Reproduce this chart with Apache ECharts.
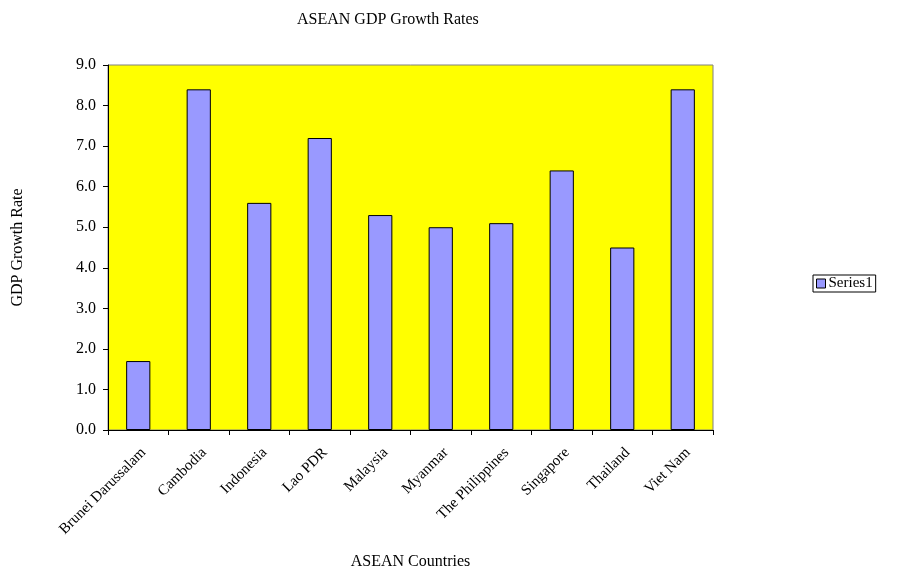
<!DOCTYPE html>
<html>
<head>
<meta charset="utf-8">
<script src="https://cdn.jsdelivr.net/npm/echarts@6/dist/echarts.min.js"></script>
<style>
  html, body { margin: 0; padding: 0; background: #fff; }
  #chart { width: 909px; height: 569px; }
</style>
</head>
<body>
<div id="chart"></div>
<script>
// ASEAN GDP growth rates by country (%)
const countries = ['Brunei Darussalam', 'Cambodia', 'Indonesia', 'Lao PDR', 'Malaysia',
  'Myanmar', 'The Philippines', 'Singapore', 'Thailand', 'Viet Nam'];
const growthRates = [1.7, 8.4, 5.6, 7.2, 5.3, 5.0, 5.1, 6.4, 4.5, 8.4];
const seriesName = 'Series1';

const serif = '"Liberation Serif", "DejaVu Serif", serif';
const chart = echarts.init(document.getElementById('chart'), null, { renderer: 'canvas' });

const grid = { left: 108, top: 65, right: 196, bottom: 139 };

chart.setOption({
  animation: false,
  backgroundColor: '#ffffff',
  textStyle: { fontFamily: serif, color: '#000' },
  title: {
    text: 'ASEAN GDP Growth Rates',
    left: 292, top: 7,
    textStyle: { fontFamily: serif, fontSize: 16, fontWeight: 'normal', color: '#000' }
  },
  legend: {
    data: [seriesName],
    left: 813, top: 275,
    itemWidth: 9, itemHeight: 9, itemGap: 4,
    borderColor: '#000', borderWidth: 1, padding: [1, 3, 1, 3],
    icon: 'rect',
    itemStyle: { borderColor: '#000', borderWidth: 1 },
    textStyle: { fontFamily: serif, fontSize: 15, color: '#000', padding: [0, 0, 0, -2] }
  },
  grid: Object.assign({
    show: true, backgroundColor: '#ffff00', borderColor: '#808080', borderWidth: 1,
    containLabel: false, outerBoundsMode: 'none'
  }, grid),
  xAxis: {
    type: 'category',
    data: countries,
    name: 'ASEAN Countries',
    nameLocation: 'middle',
    nameGap: 124,
    nameMoveOverlap: false,
    nameTextStyle: { fontFamily: serif, fontSize: 16, color: '#000' },
    axisLine: { lineStyle: { color: '#000', width: 1 } },
    axisTick: { show: true, length: 5, lineStyle: { color: '#000' } },
    axisLabel: { rotate: 45, margin: 15, verticalAlign: 'top',
      fontFamily: serif, fontSize: 15, color: '#000', interval: 0 },
    splitLine: { show: false }
  },
  yAxis: {
    type: 'value',
    min: 0, max: 9, interval: 1,
    name: 'GDP Growth Rate',
    nameLocation: 'middle',
    nameRotate: 90,
    nameGap: 82,
    nameMoveOverlap: false,
    nameTextStyle: { fontFamily: serif, fontSize: 16, color: '#000' },
    axisLine: { show: true, lineStyle: { color: '#000', width: 1 } },
    axisTick: { show: true, length: 5, lineStyle: { color: '#000' } },
    axisLabel: { margin: 12, fontFamily: serif, fontSize: 16, color: '#000',
      formatter: v => v.toFixed(1) },
    splitLine: { show: false }
  },
  series: [{
    name: seriesName,
    type: 'bar',
    data: growthRates,
    barWidth: '40%',
    itemStyle: { color: '#9999ff', borderColor: '#000', borderWidth: 1 }
  }]
});
</script>
</body>
</html>
